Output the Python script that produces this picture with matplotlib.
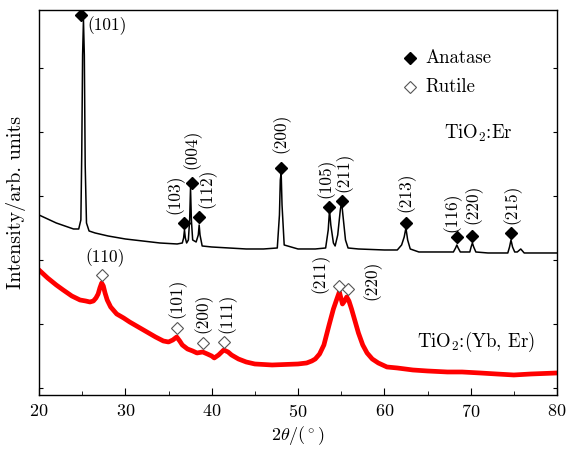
import matplotlib
matplotlib.use('Agg')
import matplotlib.pyplot as plt
from matplotlib import ticker

plt.rcParams['font.family'] = ['cmr10', 'DejaVu Serif']
plt.rcParams['mathtext.fontset'] = 'cm'
plt.rcParams['axes.unicode_minus'] = False
plt.rcParams['axes.formatter.use_mathtext'] = True

# TiO2:Er trace (2theta, intensity in arbitrary units)
er_x = [20.0, 21.0, 22.0, 23.0, 24.0, 24.6, 24.85, 24.95, 25.05, 25.15, 25.25, 25.35, 25.5,
        25.8, 26.5, 28.0, 30.0, 32.0, 34.0, 36.0, 36.6, 36.75, 36.85, 36.95, 37.1, 37.3,
        37.45, 37.55, 37.65, 37.8, 38.2, 38.45, 38.55, 38.65, 38.9, 40.0, 42.0, 44.0, 46.0,
        47.6, 47.85, 47.95, 48.05, 48.15, 48.4, 50.0, 52.0, 53.2, 53.5, 53.65, 53.8, 54.1,
        54.3, 54.6, 54.9, 55.05, 55.2, 55.5, 55.8, 57.0, 60.0, 61.5, 62.0, 62.3, 62.5, 62.7,
        63.0, 64.0, 66.0, 68.0, 68.25, 68.4, 68.55, 68.8, 69.9, 70.05, 70.2, 70.35, 70.6,
        72.0, 74.3, 74.5, 74.67, 74.85, 75.1, 75.4, 75.8, 76.2, 78.0, 80.0]
er_y = [180, 176, 172, 169, 166, 166, 175, 240, 340, 375, 340, 230, 172,
        164, 162, 159, 156, 154, 152, 151, 152, 157, 165, 157, 152, 155,
        175, 207, 175, 155, 153, 160, 170, 160, 149, 148, 147, 146, 146,
        147, 180, 215, 222, 190, 150, 146, 146, 147, 165, 185, 170, 152,
        149, 160, 185, 193, 180, 155, 147, 146, 145, 145, 150, 158, 167, 155,
        146, 143, 143, 143, 147, 150, 147, 143, 143, 148, 152, 148, 143,
        142, 142, 148, 155, 148, 143, 143, 146, 142, 142, 142]

# TiO2:(Yb, Er) trace
yb_x = [20.0, 21.0, 22.0, 22.8, 23.8, 24.75, 25.4, 25.9, 26.3, 26.6, 26.85, 27.05, 27.26,
        27.45, 27.65, 27.9, 28.3, 29.0, 29.8, 30.5, 31.5, 32.5, 33.5, 34.4, 35.0, 35.5,
        35.95, 36.3, 36.6, 37.2, 37.8, 38.3, 38.96, 39.5, 40.0, 40.3, 40.8, 41.4, 41.9,
        42.3, 43.1, 44.0, 45.0, 47.0, 50.0, 51.0, 51.6, 52.0, 52.5, 53.0, 53.6, 54.1,
        54.5, 54.79, 55.0, 55.15, 55.4, 55.64, 55.9, 56.2, 56.6, 57.0, 57.5, 58.0, 58.6,
        59.3, 60.3, 61.5, 63.3, 65.0, 67.3, 69.0, 71.1, 73.0, 75.0, 77.0, 80.0]
yb_y = [125, 117, 110, 105, 99, 95, 94, 93, 94, 97, 101, 107, 112,
        109, 102, 95, 88, 81, 77, 73, 68, 63, 58, 54, 53, 55,
        58, 54, 50, 46, 44, 42, 43, 41, 39, 37, 40, 45, 43,
        40, 36, 33, 31, 30, 31, 32, 34, 36, 41, 50, 70, 86,
        96, 103, 96, 91, 94, 98, 94, 86, 74, 62, 50, 42, 36,
        32, 28, 27, 25, 24, 23, 23, 22, 21, 20, 21, 22]

# peak markers and hkl labels
anatase_x = [24.87, 36.8, 37.69, 38.57, 48.0, 53.63, 55.06, 62.51, 68.38, 70.19, 74.67]
anatase_y = [380, 172, 212, 178, 227, 188, 194, 172, 158, 159, 162]
anatase_hkl = ['(103)', '(004)', '(112)', '(200)', '(105)', '(211)', '(213)', '(116)', '(220)', '(215)']
anatase_lx = [35.75, 37.72, 39.5, 48.03, 53.25, 55.3, 62.51, 67.84, 70.27, 74.79]
anatase_ly = [201, 246, 207, 262, 217, 223, 203, 183, 191, 191]

rutile_x = [27.26, 35.95, 38.96, 41.43, 54.75, 55.79]
rutile_y = [120, 67, 52, 53, 109, 106]
rutile_hkl = ['(101)', '(200)', '(111)', '(211)', '(220)']
rutile_lx = [35.98, 39.0, 41.78, 52.55, 58.57]
rutile_ly = [97, 82, 82, 122, 115]

fig = plt.figure(figsize=(5.71, 4.54), dpi=100)
ax = fig.add_axes([0.0683, 0.130, 0.9072, 0.848])

ax.plot(er_x, er_y, color='black', lw=1.1)
ax.plot(yb_x, yb_y, color='red', lw=3.4)

ax.plot(anatase_x, anatase_y, 'D', color='black', ms=6, ls='none')
ax.plot(rutile_x, rutile_y, 'D', mfc='white', mec='#555555', mew=0.8, ms=6, ls='none')

fs = 12.5
ax.text(25.56, 369, '(101)', fontsize=fs, ha='left', va='center')
for lx, ly, s in zip(anatase_lx, anatase_ly, anatase_hkl):
    ax.text(lx, ly, s, fontsize=fs, rotation=90, ha='center', va='center')
ax.text(27.65, 137, '(110)', fontsize=fs, ha='center', va='center')
for lx, ly, s in zip(rutile_lx, rutile_ly, rutile_hkl):
    ax.text(lx, ly, s, fontsize=fs, rotation=90, ha='center', va='center')

# legend drawn by hand
ax.plot([62.97], [337], 'D', color='black', ms=6)
ax.text(64.71, 337, 'Anatase', fontsize=13.5, ha='left', va='center')
ax.plot([62.97], [308], 'D', mfc='white', mec='#555555', mew=0.8, ms=6)
ax.text(64.71, 308, 'Rutile', fontsize=13.5, ha='left', va='center')

ax.text(70.85, 262, r'TiO$_2$:Er', fontsize=13.5, ha='center', va='center')
ax.text(70.62, 53, r'TiO$_2$:(Yb, Er)', fontsize=13.5, ha='center', va='center')

ax.set_xlim(20, 80)
ax.set_ylim(0, 385)
ax.xaxis.set_major_locator(ticker.MultipleLocator(10))
ax.xaxis.set_minor_locator(ticker.MultipleLocator(5))
ax.set_yticks([7, 71, 135, 199, 263, 327])
ax.set_yticklabels([])
ax.tick_params(axis='x', which='major', direction='in', length=5, labelsize=13, pad=6)
ax.tick_params(axis='x', which='minor', direction='in', length=3)
ax.tick_params(axis='y', direction='in', length=3, left=True, right=True)
for s in ax.spines.values():
    s.set_linewidth(1.0)

ax.set_xlabel(r'$2\theta/(^\circ)$', fontsize=13, labelpad=3)
ax.set_ylabel('Intensity/arb. units', fontsize=14.5, labelpad=6)

fig.savefig('out.png', dpi=100)
